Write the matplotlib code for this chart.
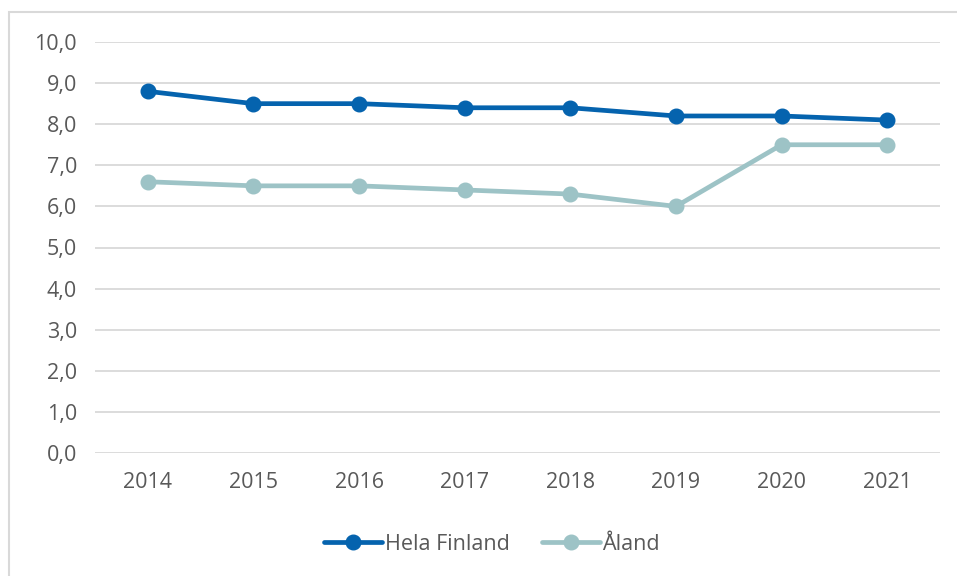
import matplotlib
matplotlib.use("Agg")
import matplotlib.pyplot as plt
from matplotlib.patches import Rectangle

plt.rcParams['font.family'] = ['Open Sans', 'DejaVu Sans']

years = ["2014", "2015", "2016", "2017", "2018", "2019", "2020", "2021"]
hela_finland = [8.8, 8.5, 8.5, 8.4, 8.4, 8.2, 8.2, 8.1]
aland = [6.6, 6.5, 6.5, 6.4, 6.3, 6.0, 7.5, 7.5]
yticks = [0, 1, 2, 3, 4, 5, 6, 7, 8, 9, 10]

W, H = 957, 576
fig = plt.figure(figsize=(W / 100, H / 100), dpi=100)
ax = fig.add_axes([95 / W, 1 - 453 / H, (940 - 95) / W, (453 - 42) / H])

fig.patches.append(Rectangle((9 / W, -0.1), 1.2, 1 - 12 / H + 0.1, transform=fig.transFigure,
                             fill=False, edgecolor='#D9D9D9', linewidth=1.5))

x = list(range(len(years)))
text_color = '#595959'
ax.plot(x, hela_finland, color='#0563AE', linewidth=3.4, marker='o', markersize=10.5,
        label='Hela Finland', solid_capstyle='round', zorder=3)
ax.plot(x, aland, color='#9DC3C6', linewidth=3.4, marker='o', markersize=10.5,
        label='Åland', solid_capstyle='round', zorder=3)

ax.set_xlim(-0.5, len(years) - 0.5)
ax.set_ylim(0, 10)
ax.set_yticks(yticks)
ax.set_yticklabels([f"{v:.1f}".replace('.', ',') for v in yticks])
ax.set_xticks(x)
ax.set_xticklabels(years)
ax.grid(axis='y', color='#D9D9D9', linewidth=1.3)
ax.set_axisbelow(True)
for s in ax.spines.values():
    s.set_visible(False)
ax.tick_params(axis='both', length=0, labelsize=15.5, colors=text_color)
ax.tick_params(axis='y', pad=13)
ax.tick_params(axis='x', pad=14)

leg = fig.legend(loc='center', bbox_to_anchor=(492 / W, 1 - 544 / H), ncol=2, frameon=False,
                 fontsize=15.5, handlelength=2.7, handletextpad=0.1, columnspacing=1.5)
for t in leg.get_texts():
    t.set_color(text_color)

fig.savefig('out.png', dpi=100)
